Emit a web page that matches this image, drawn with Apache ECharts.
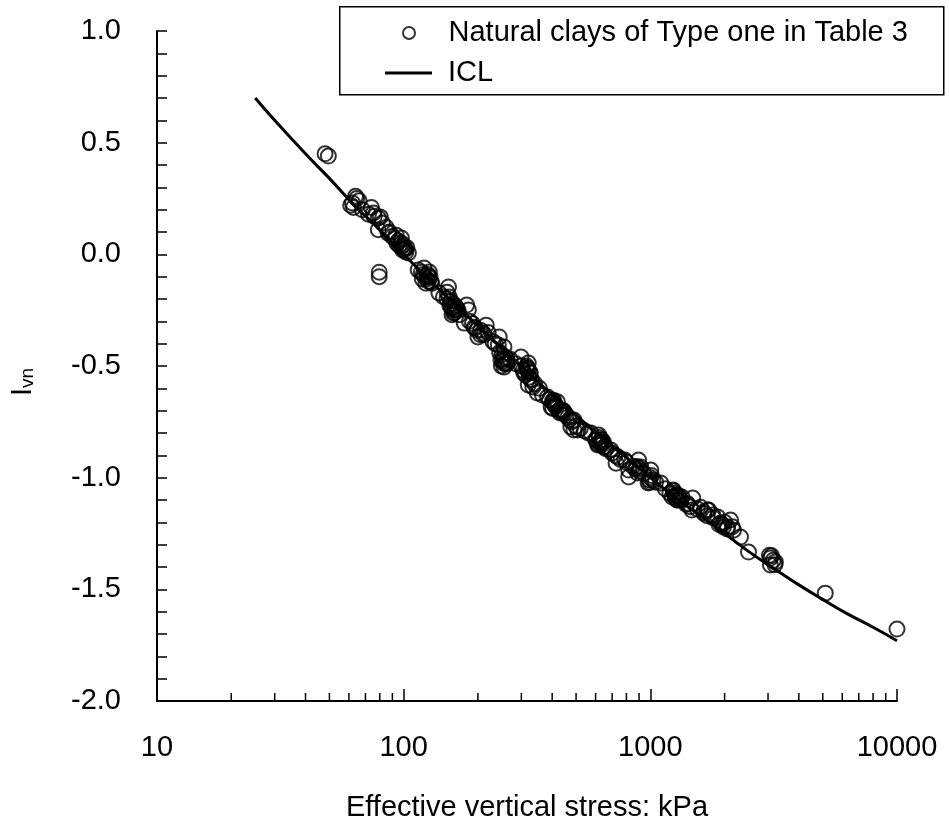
<!DOCTYPE html>
<html><head><meta charset="utf-8">
<script src="https://cdn.jsdelivr.net/npm/echarts@6/dist/echarts.min.js"></script>
<style>html,body{margin:0;padding:0;background:#fff}#c{width:949px;height:836px}</style>
</head><body><div id="c"></div>
<script>
// Scatter: natural clays (effective vertical stress kPa, Ivn)
const stress = [48,49.5,79.6,79.6,63.8,62.0,62.6,66,64.5,74,75.4,80.4,78.9,78.9,72,86.5,87.4,93.2,97.9,99.7,100.6,104.5,97.9,95,101,98,
114.5,121,127,126,129,123,125,124,128,139,152,153,156,159,166,180,183,155,158,160,162,157,176,193,200,216,210,205,198,
244,242,255,248,264,255,250,252,256,249,299,320,308,328,334,348,320,315,318,312,322,316,
383,405,396,434,464,490,476,508,442,490,400,410,402,445,455,574,618,630,649,612,620,635,628,640,
692,740,726,787,817,817,896,915,889,1004,1024,980,1000,1010,995,1102,1237,1226,1281,1342,1407,1472,1486,1250,1260,1300,
1599,1644,1722,1706,1790,1875,1926,1979,2113,2174,2055,2000,1950,2320,2500,3040,3067,3214,3067,3150,5118,10000,
61,68,76,82,85,90,92,96,99,102,103,94,118,120,122,126,130,119,145,150,154,161,164,168,150,
185,190,195,205,212,220,230,235,245,258,262,270,285,300,305,325,330,340,355,365,
390,415,420,425,430,470,480,500,520,540,560,600,625,645,660,700,720,760,800,850,870,900,940,
1050,1150,1200,1270,1290,1330,1400,1450,1550,1650,1700,1800,1900,2050,2150,3100,3200,
158,163,253,260,318,326,405,412,440,450,605,615,632,655,880,905,990,1240,1265,1310];
const ivn = [0.45,0.44,-0.08,-0.10,0.26,0.23,0.21,0.24,0.25,0.21,0.185,0.167,0.163,0.11,0.18,0.095,0.10,0.086,0.073,0.042,0.019,0.006,0.033,0.06,0.03,0.05,
-0.07,-0.061,-0.079,-0.102,-0.124,-0.129,-0.09,-0.11,-0.10,-0.173,-0.146,-0.191,-0.236,-0.263,-0.249,-0.227,-0.249,-0.21,-0.22,-0.25,-0.23,-0.27,-0.308,-0.326,-0.37,-0.317,-0.352,-0.36,-0.34,
-0.37,-0.406,-0.415,-0.473,-0.487,-0.505,-0.45,-0.48,-0.49,-0.50,-0.46,-0.487,-0.532,-0.563,-0.594,-0.621,-0.585,-0.50,-0.52,-0.54,-0.55,-0.51,
-0.639,-0.653,-0.684,-0.697,-0.729,-0.742,-0.773,-0.787,-0.711,-0.787,-0.66,-0.67,-0.69,-0.70,-0.72,-0.80,-0.809,-0.841,-0.863,-0.854,-0.82,-0.83,-0.85,-0.85,
-0.876,-0.908,-0.935,-0.921,-0.966,-0.997,-0.921,-0.952,-0.979,-0.966,-1.011,-1.024,-1.00,-0.99,-1.02,-1.024,-1.055,-1.087,-1.10,-1.087,-1.114,-1.145,-1.091,-1.07,-1.09,-1.08,
-1.132,-1.154,-1.145,-1.145,-1.167,-1.176,-1.203,-1.221,-1.19,-1.235,-1.221,-1.20,-1.21,-1.266,-1.333,-1.347,-1.36,-1.378,-1.391,-1.37,-1.517,-1.678,
0.22,0.20,0.17,0.14,0.12,0.08,0.07,0.04,0.02,0.01,0.03,0.05,-0.08,-0.09,-0.10,-0.12,-0.13,-0.11,-0.19,-0.20,-0.23,-0.26,-0.24,-0.27,-0.17,
-0.30,-0.31,-0.33,-0.34,-0.36,-0.35,-0.39,-0.40,-0.44,-0.46,-0.47,-0.47,-0.49,-0.50,-0.52,-0.53,-0.56,-0.58,-0.60,-0.63,
-0.65,-0.68,-0.66,-0.70,-0.71,-0.74,-0.75,-0.77,-0.78,-0.79,-0.80,-0.83,-0.84,-0.84,-0.87,-0.89,-0.90,-0.92,-0.93,-0.95,-0.96,-0.97,-0.98,
-1.02,-1.05,-1.07,-1.08,-1.10,-1.10,-1.12,-1.13,-1.14,-1.16,-1.17,-1.18,-1.21,-1.23,-1.22,-1.35,-1.39,
-0.24,-0.25,-0.47,-0.49,-0.51,-0.53,-0.66,-0.68,-0.70,-0.71,-0.83,-0.85,-0.83,-0.86,-0.95,-0.96,-1.01,-1.06,-1.08,-1.09];

// ICL line
const iclStress = [25,30,40,50,63,80,100,130,160,200,250,320,400,500,630,800,1000,1300,1600,2000,2500,3200,4000,5000,6300,8000,10000];
const iclIvn = [0.70,0.60,0.45,0.34,0.22,0.11,0.0,-0.125,-0.22,-0.32,-0.42,-0.53,-0.63,-0.72,-0.82,-0.91,-1.0,-1.10,-1.17,-1.25,-1.33,-1.41,-1.48,-1.545,-1.61,-1.67,-1.73];

// Axis ticks
const xMinorTicks = [20,30,40,50,60,70,80,90,200,300,400,500,600,700,800,900,2000,3000,4000,5000,6000,7000,8000,9000];
const xMin = 10, xMax = 10000;
const yMin = -2.0, yMax = 1.0, yStep = 0.5;

const seriesNames = ['Natural clays of Type one in Table 3', 'ICL'];

const FONT = "'Liberation Sans', Arial, sans-serif";
const legendText = {fontFamily: FONT, fontSize: 29, color: '#000', lineHeight: 30, padding: [0, 0, 0, 11]};
const chart = echarts.init(document.getElementById('c'), null, {renderer: 'canvas'});
chart.setOption({
  animation: false,
  backgroundColor: '#fff',
  textStyle: {fontFamily: FONT, color: '#000'},
  grid: {left: 155, right: 52, top: 31, bottom: 135, containLabel: false},
  graphic: [{
    type: 'rect', left: 339, top: 6, z: 100,
    shape: {width: 604, height: 88},
    style: {fill: 'rgba(0,0,0,0)', stroke: '#000', lineWidth: 1.5}
  }],
  legend: [{
    data: [seriesNames[0]], orient: 'vertical',
    left: 402, top: 18,
    itemWidth: 47, itemHeight: 12, padding: 0,
    textStyle: legendText
  }, {
    data: [seriesNames[1]], orient: 'vertical',
    left: 385, top: 58, icon: 'rect',
    itemWidth: 47, itemHeight: 3, padding: 0,
    textStyle: legendText
  }],
  xAxis: {
    type: 'log', logBase: 10, min: xMin, max: xMax,
    name: 'Effective vertical stress: kPa', nameLocation: 'middle', nameGap: 92,
    nameTextStyle: {fontFamily: FONT, fontSize: 29, color: '#000'},
    axisLine: {show: true, onZero: false, lineStyle: {color: '#000', width: 2}},
    axisTick: {show: true, inside: true, length: 12, lineStyle: {color: '#000', width: 1.5}},
    minorTick: {show: false},
    axisLabel: {fontFamily: FONT, fontSize: 29, color: '#000', margin: 32, formatter: v => String(Math.round(v))},
    splitLine: {show: false}
  },
  yAxis: {
    type: 'value', min: yMin, max: yMax, interval: yStep,
    name: '{i|I}{s|vn}', nameLocation: 'middle', nameGap: 120, nameRotate: 90,
    nameTextStyle: {
      padding: [0, 32, 0, 0],
      rich: {
        i: {fontFamily: FONT, fontSize: 29, color: '#000', verticalAlign: 'bottom'},
        s: {fontFamily: FONT, fontSize: 19, color: '#000', verticalAlign: 'bottom'}
      }
    },
    axisLine: {show: true, onZero: false, lineStyle: {color: '#000', width: 2}},
    axisTick: {show: true, inside: true, length: 10, lineStyle: {color: '#000', width: 1.5}},
    minorTick: {show: true, splitNumber: 5, length: 10, lineStyle: {color: '#000', width: 1.5}},
    axisLabel: {fontFamily: FONT, fontSize: 29, color: '#000', margin: 36, formatter: v => v.toFixed(1)},
    splitLine: {show: false}
  },
  series: [
    {
      name: seriesNames[0], type: 'scatter', symbol: 'circle', symbolSize: 15,
      data: stress.map((s, i) => [s, ivn[i]]),
      itemStyle: {color: 'rgba(0,0,0,0)', borderColor: '#000', borderWidth: 2},
      z: 3
    },
    {
      name: seriesNames[1], type: 'line', symbol: 'none', smooth: true,
      data: iclStress.map((s, i) => [s, iclIvn[i]]),
      lineStyle: {color: '#000', width: 3},
      itemStyle: {color: '#000'},
      z: 4
    },
    {
      name: 'xMinorTicks', type: 'custom', silent: true, clip: false, z: 5,
      data: xMinorTicks.map(v => [v, yMin]),
      renderItem: (params, api) => {
        const p = api.coord([api.value(0), api.value(1)]);
        return {type: 'line', shape: {x1: p[0], y1: p[1], x2: p[0], y2: p[1] - 8},
          style: {stroke: '#000', lineWidth: 1.5}};
      }
    }
  ]
});
</script>
</body></html>
